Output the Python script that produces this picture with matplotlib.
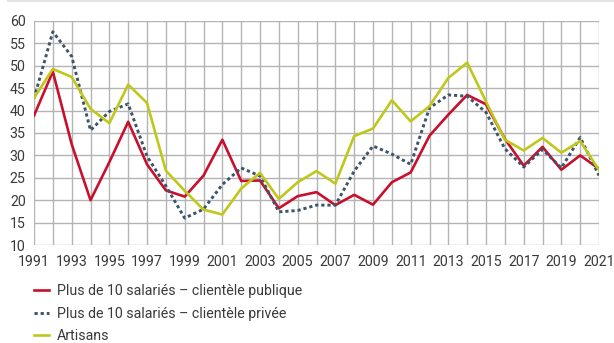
import matplotlib.pyplot as plt
import numpy as np
from matplotlib.lines import Line2D

years = np.arange(1991, 2022)

# Plus de 10 salariés - clientèle publique
publique = [38.9, 48.7, 32.5, 20.0, 28.5, 37.5, 28.0, 22.2, 20.8, 25.5,
            33.5, 24.3, 24.4, 18.2, 20.9, 21.8, 18.9, 21.2, 19.0, 24.0,
            26.2, 34.4, 39.1, 43.5, 41.4, 33.7, 27.7, 31.9, 26.8, 30.0, 27.0]
# Plus de 10 salariés - clientèle privée
privee = [42.7, 57.6, 52.1, 35.6, 39.8, 41.5, 29.8, 23.2, 16.0, 18.0,
          23.5, 27.2, 25.4, 17.4, 17.7, 18.9, 18.9, 26.5, 32.1, 30.3,
          28.0, 40.6, 43.5, 43.2, 39.6, 31.5, 27.4, 31.3, 27.2, 34.0, 25.5]
artisans = [42.8, 49.3, 47.5, 40.4, 37.2, 45.8, 41.7, 26.6, 22.1, 17.9,
            16.8, 22.6, 26.1, 20.3, 24.0, 26.5, 23.7, 34.3, 36.0, 42.3,
            37.6, 41.0, 47.3, 50.7, 42.0, 33.5, 31.1, 33.9, 30.6, 33.2, 26.7]

labels = ["Plus de 10 salariés – clientèle publique",
          "Plus de 10 salariés – clientèle privée",
          "Artisans"]

plt.rcParams['font.family'] = ['Roboto', 'DejaVu Sans']
txt = '#3a3a3a'
fs = 10.2

fig = plt.figure(figsize=(6.14, 3.43), dpi=100)
ax = fig.add_axes([0.0554, 0.2857, 0.9202, 0.6531])

ax.plot(years, publique, color='#c8102e', lw=1.9, label=labels[0])
ax.plot(years, privee, color='#3d5568', lw=2.1, dashes=(1.1, 1.0), label=labels[1])
ax.plot(years, artisans, color='#bfc81a', lw=1.9, label=labels[2])

ax.set_xlim(1991, 2021)
ax.set_ylim(10, 60)
ax.set_xticks(np.arange(1991, 2022, 2))
ax.set_xticks(np.arange(1992, 2021, 2), minor=True)
ax.set_yticks(np.arange(10, 61, 5))
ax.grid(True, which='both', color='#b4b4b4', lw=1.0)
ax.set_axisbelow(True)
for s in ax.spines.values():
    s.set_visible(False)
ax.tick_params(which='both', length=0, labelsize=fs, colors=txt)
ax.tick_params(axis='x', pad=7)
ax.tick_params(axis='y', pad=6)

fig.add_artist(Line2D([0.013, 1.0], [0.997, 0.997], color='#e4e4e4', lw=1.5))

fig.legend(loc='upper left', bbox_to_anchor=(0.055, 0.172), frameon=False,
           fontsize=fs, labelcolor=txt, handlelength=1.05, handletextpad=0.6,
           labelspacing=0.6, borderaxespad=0, borderpad=0)

fig.savefig('out.png', dpi=100)
